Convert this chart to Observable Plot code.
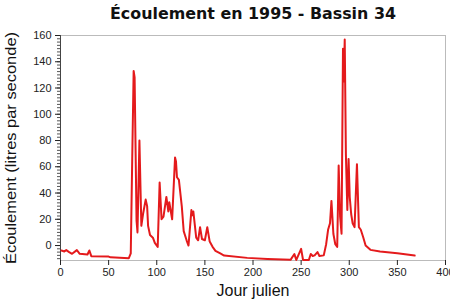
<!DOCTYPE html>
<html>
<head>
<meta charset="utf-8">
<script src="https://cdn.jsdelivr.net/npm/d3@7"></script>
<script src="https://cdn.jsdelivr.net/npm/@observablehq/plot@0.6"></script>
<style>
  html, body { margin: 0; padding: 0; background: #fff; }
  #chart { position: relative; width: 450px; height: 300px; }
</style>
</head>
<body>
<div id="chart"></div>
<script>
const titleText = "Écoulement en 1995 - Bassin 34";
const xLabel = "Jour julien";
const yLabel = "Écoulement (litres par seconde)";
const xTicks = [0, 50, 100, 150, 200, 250, 300, 350, 400];
const yTicks = [0, 20, 40, 60, 80, 100, 120, 140, 160];

const days = [1, 4, 6, 9, 12, 17, 20, 28, 30, 32, 50, 52, 71, 73, 74.5, 76, 77, 79, 80, 82,
  84, 86, 88.5, 90, 91, 93, 96, 98, 101, 103, 105, 107, 110, 112, 113, 116, 119, 120, 121, 123,
  126, 128, 131, 133, 136, 137, 138, 141, 143, 145, 147, 150, 152.5, 155, 158, 161, 166, 170, 194, 215,
  239, 243, 245, 250, 252, 258, 260, 262, 264, 267, 269, 273.5, 276, 278, 280, 281.5, 283.5, 285.5, 287.5, 289,
  290.5, 292, 293.5, 294.3, 295.3, 296.5, 298, 299.3, 300.5, 302, 303.5, 305.5, 308, 310, 312, 314.5, 317, 322,
  332, 350, 368];
const flow = [-3.8, -4.5, -3.5, -5, -6.3, -3.5, -6.3, -6.8, -3.8, -8.1, -8.4, -9.0, -9.6, -6, 65, 133, 128, 19, 10, 80,
  15, 25, 35, 30, 15, 8, 6, 2, -1, 48, 20, 22, 37, 26, 33, 20, 67, 64, 52, 50,
  30, 11, 4, 0, 27, 23, 26, 6, 4, 14, 5, 4, 14, 3, -1, -4, -6, -7.6, -9.4, -10.2,
  -10.9, -6.5, -11, -2.5, -11, -11, -6.4, -8, -7.5, -5, -8, -7.5, 1, 12, 17, 34, 9, 1, -1, 61,
  22, 9, 150, 125, 157, 70, 27, 66, 37, 24, 17, 14, 62, 14, 12, 6.3, 0, -3.3,
  -4.6, -5.8, -7.6];

const data = days.map((d, i) => ({day: d, flow: flow[i]}));
const minorY = d3.range(-10, 160.01, 2.5);

const svg = Plot.plot({
  width: 450,
  height: 300,
  marginTop: 35,
  marginLeft: 60,
  marginRight: 5,
  marginBottom: 40,
  style: {fontFamily: "'Liberation Sans', Arial, sans-serif", fontSize: "11px", color: "#222", background: "#fff"},
  x: {domain: [0, 400]},
  y: {domain: [-11.4, 160]},
  marks: [
    Plot.frame({stroke: "#777", strokeDasharray: "1,1"}),
    Plot.axisY({ticks: minorY, tickSize: 3, text: null, label: null, stroke: "#555"}),
    Plot.axisY({ticks: yTicks, tickSize: 5, tickPadding: 4, label: null, tickFormat: d => String(d)}),
    Plot.axisX({ticks: xTicks, tickSize: 5, tickPadding: 3, label: null, tickFormat: d => String(d)}),
    Plot.ruleX([0], {stroke: "#444"}),
    Plot.line(data, {x: "day", y: "flow", stroke: "#e41a1c", strokeWidth: 2})
  ]
});
document.getElementById("chart").appendChild(svg);

const s = d3.select(svg);
s.append("text")
  .attr("x", 253).attr("y", 19)
  .attr("text-anchor", "middle")
  .attr("font-family", "'DejaVu Sans', sans-serif")
  .attr("font-weight", "bold")
  .attr("font-size", 15)
  .attr("textLength", 286)
  .attr("lengthAdjust", "spacingAndGlyphs")
  .attr("fill", "#111")
  .text(titleText);
s.append("text")
  .attr("x", 253).attr("y", 296)
  .attr("text-anchor", "middle")
  .attr("font-family", "'Liberation Sans', Arial, sans-serif")
  .attr("font-size", 16)
  .attr("fill", "#111")
  .text(xLabel);
s.append("text")
  .attr("transform", "translate(16,148) rotate(-90)")
  .attr("text-anchor", "middle")
  .attr("font-family", "'Liberation Sans', Arial, sans-serif")
  .attr("font-size", 15.5)
  .attr("textLength", 232)
  .attr("lengthAdjust", "spacingAndGlyphs")
  .attr("fill", "#111")
  .text(yLabel);
</script>
</body>
</html>
